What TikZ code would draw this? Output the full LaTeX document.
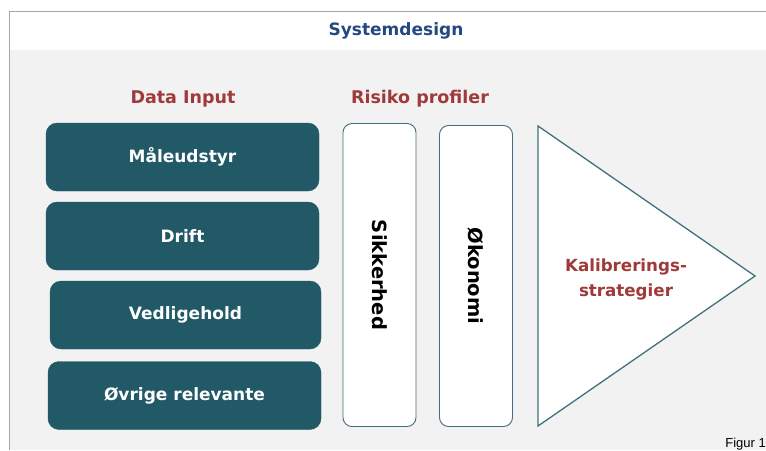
\documentclass[tikz,border=0pt]{standalone}
\usepackage{fontspec}
\setmainfont{DejaVu Sans}
\newfontfamily\figfont{Liberation Sans}
\usetikzlibrary{positioning}

\definecolor{tealbox}{RGB}{33,89,103}
\definecolor{tealline}{RGB}{66,112,124}
\definecolor{headred}{RGB}{160,58,58}
\definecolor{titleblue}{RGB}{36,72,128}
\definecolor{panelgrey}{RGB}{242,242,242}

\begin{document}
\begin{tikzpicture}[x=1pt, y=-1pt,
    inputbox/.style={draw=tealbox, fill=tealbox, rounded corners=11pt,
        minimum width=273pt, minimum height=68pt, text=white,
        font=\fontsize{17}{20}\selectfont\bfseries},
    profilbox/.style={draw=tealline, fill=white, line width=0.9pt, rounded corners=9pt,
        minimum width=73pt, minimum height=303pt},
    profiltext/.style={rotate=-90, font=\fontsize{19.5}{22}\selectfont\bfseries},
    heading/.style={text=headred, font=\fontsize{17.5}{20}\selectfont\bfseries}]
    \useasboundingbox (0,0) rectangle (766,450);

    % frame and background
    \fill[white] (0,0) rectangle (766,450);
    \fill[panelgrey] (10,50) rectangle (766,450);
    \draw[gray!70, line width=1.2pt] (9.5,450) -- (9.5,11.5) -- (766,11.5);
    \node (title) at (396,31) {\color{titleblue}\fontsize{17}{20}\selectfont\bfseries Systemdesign};

    % data input
    \node[heading] (datainput) at (183,99) {Data Input};
    \node[inputbox] (maal) at (182.5,157) {Måleudstyr};
    \node[inputbox] (drift) at (182.5,236) {Drift};
    \node[inputbox, minimum width=271pt] (vedl) at (185.5,315) {Vedligehold};
    \node[inputbox] (ovrige) at (184.5,395.5) {Øvrige relevante};

    % risiko profiler
    \node[heading] (risiko) at (420,99) {Risiko profiler};
    \node[profilbox] (sikker) at (379.5,275) {};
    \node[profiltext] at (sikker.center) {Sikkerhed};
    \node[profilbox, minimum height=301pt] (okonomi) at (476,276) {};
    \node[profiltext] at (okonomi.center) {Økonomi};

    % kalibrering
    \draw[tealline, fill=white, line width=1.3pt] (538,126) -- (755,276) -- (538,426) -- cycle;
    \node[heading, align=center, font=\fontsize{16.7}{25}\selectfont\bfseries] (kalib) at (626,279)
        {Kalibrerings-\\strategier};

    \node[anchor=base east, inner sep=0pt, font=\figfont\fontsize{13}{15}\selectfont] (figur) at (766,447) {Figur 1};
\end{tikzpicture}
\end{document}
